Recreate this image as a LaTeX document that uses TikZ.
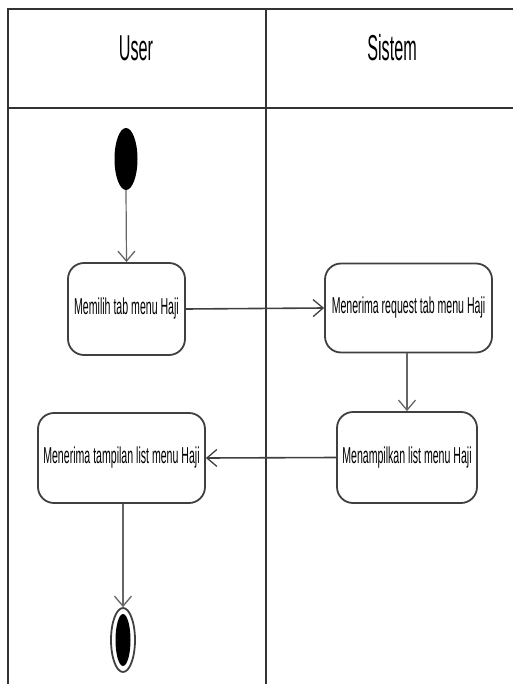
\documentclass[tikz,border=0pt]{standalone}
\usepackage{fontspec}
\setmainfont[FakeStretch=0.46]{Liberation Sans}
\newfontfamily\hdrfont[FakeStretch=0.45]{Liberation Sans}
\usetikzlibrary{arrows.meta,shapes.geometric}
\begin{document}
\begin{tikzpicture}[x=1pt,y=-1pt,
  lane/.style={draw=black!80,line width=2pt},
  act/.style={draw=black!75,line width=1.8pt,rectangle,rounded corners=16pt,align=center,inner sep=0pt,font=\fontsize{23}{25}\selectfont},
  flow/.style={draw=black!75,line width=1.6pt,-{Straight Barb[length=10pt,width=17pt,line width=1.3pt]}},
  vflow/.style={flow,draw=black!60,line width=1.2pt},
  hdr/.style={font=\hdrfont\fontsize{36}{38}\selectfont}]
\useasboundingbox (0,0) rectangle (513,684);
% swimlanes
\coordinate (tl) at (8,9);
\coordinate (tr) at (513,9);
\coordinate (hl) at (8,108);
\coordinate (hr) at (513,108);
\coordinate (bl) at (8,684);
\coordinate (dt) at (266,9);
\coordinate (db) at (266,684);
\draw[lane] (tr) -- (tl) -- (bl);
\draw[lane] (hl) -- (hr);
\draw[lane] (dt) -- (db);
\node[hdr] (user) at (136,48) {User};
\node[hdr] (sistem) at (392,48) {Sistem};
% start
\node[ellipse,fill=black,minimum width=23pt,minimum height=62pt,inner sep=0pt] (start) at (126,159) {};
% activities
\node[act,minimum width=117pt,minimum height=92pt] (n1) at (126.5,309) {Memilih tab menu Haji};
\node[act,minimum width=167pt,minimum height=89pt] (n2) at (408.5,308) {Menerima request tab menu Haji};
\node[act,minimum width=140pt,minimum height=91pt] (n3) at (407,457.5) {Menampilkan list menu Haji};
\node[act,minimum width=167pt,minimum height=90pt] (n4) at (121.5,458) {Menerima tampilan list menu Haji};
% end
\node[ellipse,draw=black!75,line width=1.8pt,minimum width=24pt,minimum height=64pt,inner sep=0pt] (end) at (123,640) {};
\node[ellipse,fill=black,minimum width=15pt,minimum height=52pt,inner sep=0pt] (endin) at (123,640) {};
% flows
\draw[vflow] (start.south) -- (n1.north);
\draw[flow] (n1.east) -- (n2.west);
\draw[vflow] (n3.north |- n2.south) -- (n3.north);
\draw[flow] (n3.west) -- (n4.east);
\draw[vflow] (n4.south -| end.north) -- (end.north);
\end{tikzpicture}
\end{document}
